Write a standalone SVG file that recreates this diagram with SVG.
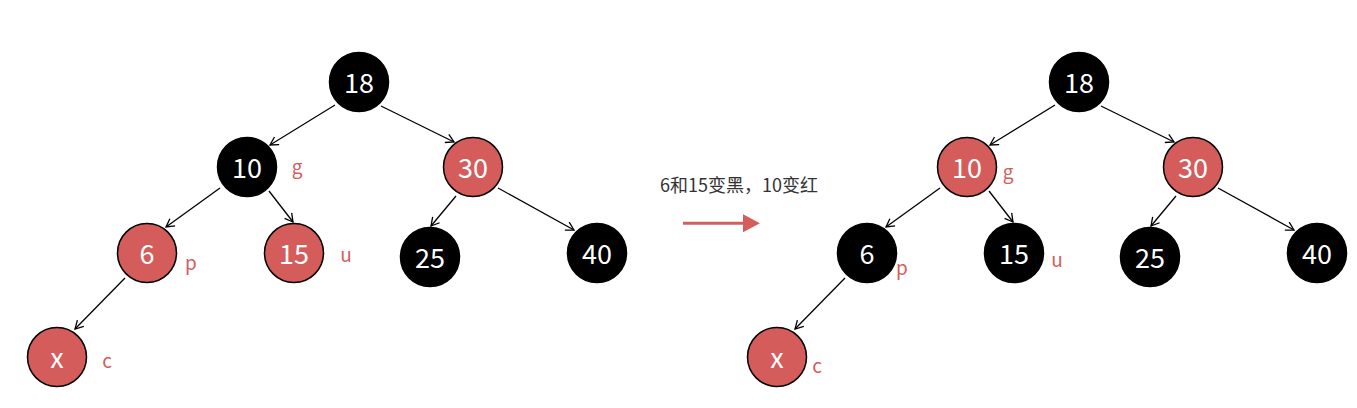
<svg xmlns="http://www.w3.org/2000/svg" width="1357" height="408" viewBox="0 0 1357 408">
<style>
.b{fill:#000;stroke:#000;stroke-width:1.5}
.r{fill:#D45D5C;stroke:#000;stroke-width:1.5}
.t{font-family:"Noto Sans CJK SC","Noto Sans",sans-serif;font-size:27px;fill:#fff;text-anchor:middle}
.l{font-family:"Noto Sans CJK SC","Noto Sans",sans-serif;font-size:19px;fill:#D45D5C;text-anchor:middle}
.e{stroke:#000;stroke-width:1.3;fill:none;marker-end:url(#a)}
.c{font-family:"Noto Sans CJK SC","Noto Sans",sans-serif;font-size:18px;fill:#333}
</style>
<defs>
<marker id="a" markerUnits="userSpaceOnUse" markerWidth="12" markerHeight="12" refX="10" refY="6" orient="auto">
<path d="M2,1.5 L10,6 L2,10.5" fill="none" stroke="#000" stroke-width="1.3"/>
</marker>
</defs>
<g id="connectors">
<line class="e" x1="335" y1="105" x2="270" y2="145"/>
<line class="e" x1="381" y1="106" x2="454" y2="142"/>
<line class="e" x1="220" y1="188" x2="166" y2="227"/>
<line class="e" x1="269" y1="191" x2="293" y2="222"/>
<line class="e" x1="125" y1="278" x2="75" y2="329"/>
<line class="e" x1="456" y1="196" x2="431" y2="226"/>
<line class="e" x1="498" y1="188" x2="574" y2="230"/>
<line class="e" x1="1055" y1="105" x2="990" y2="145"/>
<line class="e" x1="1101" y1="106" x2="1174" y2="142"/>
<line class="e" x1="940" y1="188" x2="886" y2="227"/>
<line class="e" x1="989" y1="191" x2="1013" y2="222"/>
<line class="e" x1="845" y1="278" x2="795" y2="329"/>
<line class="e" x1="1176" y1="196" x2="1151" y2="226"/>
<line class="e" x1="1218" y1="188" x2="1294" y2="230"/>
</g>
<g id="L18"><circle class="b" cx="359" cy="82" r="29.5"/><text class="t" x="359" y="93">18</text></g>
<g id="L10"><circle class="b" cx="247" cy="167" r="29.5"/><text class="t" x="247" y="178">10</text><text class="l" x="297" y="174">g</text></g>
<g id="L30"><circle class="r" cx="473" cy="167" r="29.5"/><text class="t" x="473" y="178">30</text></g>
<g id="L6"><circle class="r" cx="147" cy="253" r="29.5"/><text class="t" x="147" y="264">6</text><text class="l" x="191" y="270">p</text></g>
<g id="L15"><circle class="r" cx="294" cy="253" r="29.5"/><text class="t" x="294" y="264">15</text><text class="l" x="346" y="262">u</text></g>
<g id="L25"><circle class="b" cx="430" cy="257" r="29.5"/><text class="t" x="430" y="268">25</text></g>
<g id="L40"><circle class="b" cx="597" cy="253" r="29.5"/><text class="t" x="597" y="264">40</text></g>
<g id="Lx"><circle class="r" cx="57" cy="357" r="29.5"/><text class="t" x="57" y="368">x</text><text class="l" x="107" y="368">c</text></g>
<g id="caption"><text class="c" x="660" y="192">6和15变黑，10变红</text>
<line x1="683" y1="223.3" x2="745" y2="223.3" stroke="#D45D5C" stroke-width="3"/>
<path d="M743,214.3 L760,223.3 L743,232.3 Z" fill="#D45D5C"/></g>
<g id="R18"><circle class="b" cx="1079" cy="82" r="29.5"/><text class="t" x="1079" y="93">18</text></g>
<g id="R10"><circle class="r" cx="967" cy="167" r="29.5"/><text class="t" x="967" y="178">10</text><text class="l" x="1008" y="179">g</text></g>
<g id="R30"><circle class="r" cx="1193" cy="167" r="29.5"/><text class="t" x="1193" y="178">30</text></g>
<g id="R6"><circle class="b" cx="867" cy="253" r="29.5"/><text class="t" x="867" y="264">6</text><text class="l" x="902" y="275">p</text></g>
<g id="R15"><circle class="b" cx="1014" cy="253" r="29.5"/><text class="t" x="1014" y="264">15</text><text class="l" x="1057" y="267">u</text></g>
<g id="R25"><circle class="b" cx="1150" cy="257" r="29.5"/><text class="t" x="1150" y="268">25</text></g>
<g id="R40"><circle class="b" cx="1317" cy="253" r="29.5"/><text class="t" x="1317" y="264">40</text></g>
<g id="Rx"><circle class="r" cx="777" cy="357" r="29.5"/><text class="t" x="777" y="368">x</text><text class="l" x="817" y="373">c</text></g>
</svg>
